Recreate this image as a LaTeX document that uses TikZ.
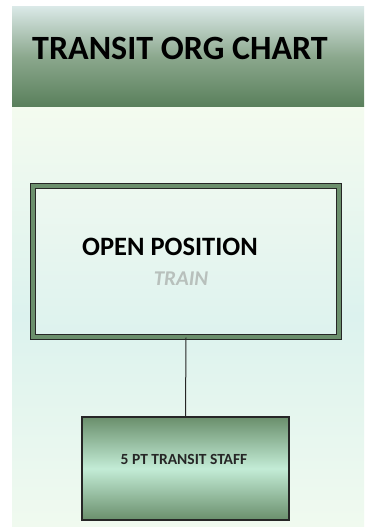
\documentclass[tikz,border=0pt]{standalone}
\usepackage{fontspec}
\setmainfont{Carlito}
\begin{document}
\begin{tikzpicture}[x=1pt,y=-1pt,
  titletext/.style={font=\fontsize{34}{40}\selectfont\bfseries, text=black, inner sep=0pt},
  openbox/.style={draw=black!85, line width=1pt, double={rgb,255:red,107;green,143;blue,108}, double distance=3.5pt,
     minimum width=306pt, minimum height=151pt, inner sep=0pt,
     top color=boxtop, bottom color=boxbot},
  staffbox/.style={draw=black!85, line width=1.2pt, minimum width=207pt, minimum height=103pt, inner sep=0pt,
     top color=staffdark, bottom color=staffdark, middle color=stafflight},
  stafflabel/.style={font=\fontsize{15.5}{18}\selectfont\bfseries, text=black!85, inner sep=0pt},
  mainlabel/.style={font=\fontsize{26.5}{30}\selectfont\bfseries, text=black, inner sep=0pt},
  sublabel/.style={font=\fontsize{21}{25}\selectfont\bfseries\itshape, text=trainGray, inner sep=0pt},
  link/.style={draw=black!85, line width=1pt}
]
\definecolor{hdrtop}{RGB}{217,232,230}
\definecolor{hdrmid}{RGB}{140,168,142}
\definecolor{hdrbot}{RGB}{90,128,92}
\definecolor{bgtop}{RGB}{244,251,239}
\definecolor{bgmid}{RGB}{220,242,238}
\definecolor{bgbot}{RGB}{240,250,239}
\definecolor{boxtop}{RGB}{238,248,240}
\definecolor{boxbot}{RGB}{221,242,238}
\definecolor{staffdark}{RGB}{106,143,108}
\definecolor{stafflight}{RGB}{195,236,214}
\definecolor{trainGray}{RGB}{184,192,188}
\useasboundingbox (0,0) rectangle (370,527);
\fill[white] (0,0) rectangle (370,527);
% body background
\shade[top color=bgtop, bottom color=bgbot, middle color=bgmid] (12,106) rectangle (364,526);
% header
\shade[top color=hdrtop, bottom color=hdrbot, middle color=hdrmid] (12,7) rectangle (364,106);
\node[titletext, anchor=center] (title) at (180,48) {TRANSIT ORG CHART};
% boxes
\node[openbox] (open) at (186,261.5) {};
\node[mainlabel] (openlbl) at (170,247) {OPEN POSITION};
\node[sublabel] (trainlbl) at (181,279) {TRAIN};
\node[staffbox] (staff) at (185.5,468.5) {};
\node[stafflabel] (stafflbl) at (184,459) {5 PT TRANSIT STAFF};
\draw[link] (open.south) -- (staff.north);
\end{tikzpicture}
\end{document}
